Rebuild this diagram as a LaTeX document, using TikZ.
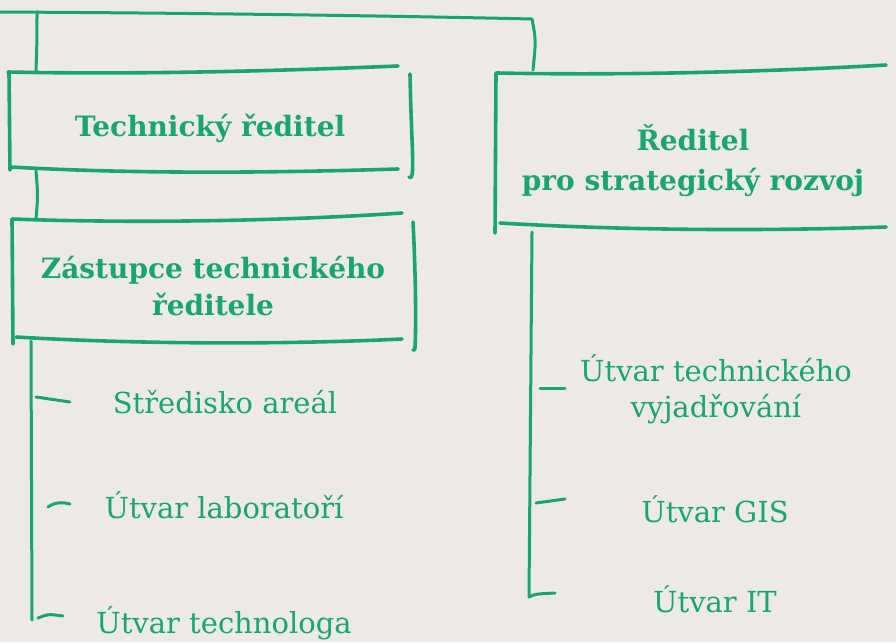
\documentclass[tikz,border=0pt]{standalone}
\usepackage{fontspec}
\setmainfont{DejaVu Serif}
\definecolor{grn}{HTML}{19A571}
\definecolor{paper}{HTML}{EDEAE5}
\begin{document}
\begin{tikzpicture}[x=1pt,y=-1pt,
  stroke/.style={draw=grn,line width=3.6pt,line cap=round,line join=round},
  link/.style={draw=grn,line width=3pt,line cap=round,line join=round},
  head/.style={text=grn,font=\bfseries\fontsize{28}{37}\selectfont,align=center,anchor=base,inner sep=0pt},
  unit/.style={text=grn,font=\fontsize{29}{36}\selectfont,align=center,anchor=base,inner sep=0pt}]
\fill[paper] (0,0) rectangle (896,642);
\useasboundingbox (0,0) rectangle (896,642);
% nodes (multi-line nodes are placed by the baseline of their last line)
\node[head] (tech) at (210,136) {Technický ředitel};
\node[head] (zast) at (213,315) {Zástupce technického\\ředitele};
\node[head,font=\bfseries\fontsize{28}{40}\selectfont] (strat) at (693,190) {Ředitel\\pro strategický rozvoj};
\node[unit] (stred) at (225,413) {Středisko areál};
\node[unit] (lab) at (224,518) {Útvar laboratoří};
\node[unit] (tgl) at (224,633) {Útvar technologa};
\node[unit] (vyj) at (716,417) {Útvar technického\\vyjadřování};
\node[unit] (gis) at (715,522) {Útvar GIS};
\node[unit] (it) at (715,612) {Útvar IT};
% coordinates
\coordinate (topL) at (0,12);
\coordinate (topR) at (532,19);
\coordinate (topA) at (37,12);
\coordinate (b1top) at (36,71);
\coordinate (b1bot) at (36,171);
\coordinate (b2top) at (36,219);
\coordinate (b2bot) at (31,341);
\coordinate (leftEnd) at (32,620);
\coordinate (b3top) at (533,70);
\coordinate (b3bot) at (532,232);
\coordinate (rightEnd) at (529,597);
% top connector
\draw[link] (topL) .. controls (200,13) and (400,16) .. (topR)
  .. controls (536,40) .. (b3top);
\draw[link] (topA) .. controls (37,40) .. (b1top);
% box 1
\draw[stroke] (8,72) .. controls (150,75) and (300,70) .. (398,66);
\draw[stroke] (9,73) -- (10,170);
\draw[stroke] (11,167) .. controls (150,175) and (300,172) .. (398,169);
\draw[stroke] (410,74) .. controls (411,130) and (414,165) .. (412,175) .. controls (411,178) .. (409,177);
% connector box1 - box2
\draw[link] (b1bot) .. controls (38,195) .. (b2top);
% box 2
\draw[stroke] (12,219) .. controls (150,224) and (300,220) .. (402,213);
\draw[stroke] (12,220) -- (13,344);
\draw[stroke] (413,222) .. controls (416,280) and (416,330) .. (415,347) .. controls (415,350) .. (413,350);
\draw[stroke] (16,337) .. controls (150,345) and (300,344) .. (402,339);
% left column
\draw[link] (b2bot) -- (leftEnd);
\draw[link] (36,397) -- (70,402);
\draw[link] (48,507) .. controls (55,502) and (63,502) .. (70,504);
\draw[link] (38,618) .. controls (48,614) .. (63,616);
% box 3
\draw[stroke] (497,73) .. controls (650,76) and (800,70) .. (886,65);
\draw[stroke] (496,73) -- (495,233);
\draw[stroke] (500,223) .. controls (650,232) and (800,230) .. (886,227);
% right column
\draw[link] (b3bot) -- (rightEnd) .. controls (535,594) .. (555,593);
\draw[link] (540,388) -- (565,388);
\draw[link] (536,503) -- (565,499);
\end{tikzpicture}
\end{document}
